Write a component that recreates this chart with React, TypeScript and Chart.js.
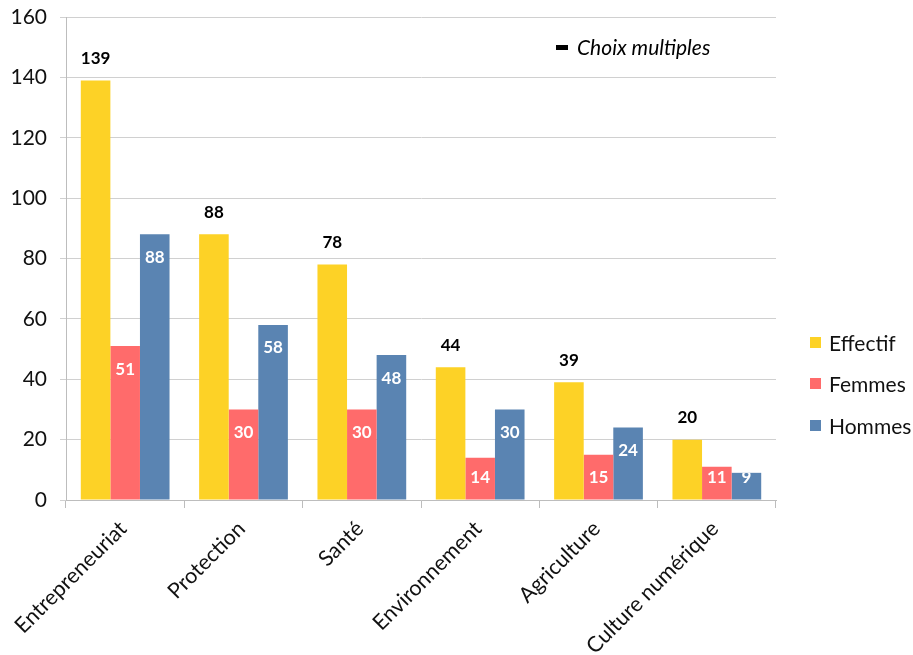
import React, { useEffect, useRef } from "react";
import { Chart, registerables } from "chart.js";

Chart.register(...registerables);

const categories = ["Entrepreneuriat", "Protection", "Santé", "Environnement", "Agriculture", "Culture numérique"];
const effectif = [139, 88, 78, 44, 39, 20];
const femmes = [51, 30, 30, 14, 15, 11];
const hommes = [88, 58, 48, 30, 24, 9];
const seriesNames = ["Effectif", "Femmes", "Hommes"];
const seriesColors = ["#FDD226", "#FF6B6B", "#5A84B2"];
const yTicks = [0, 20, 40, 60, 80, 100, 120, 140, 160];
const noteText = "Choix multiples";

const FONT = "Lato, 'Open Sans', sans-serif";

const labelPlugin = {
  id: "valueLabels",
  afterDatasetsDraw(chart: any) {
    const ctx = chart.ctx;
    ctx.save();
    ctx.font = `bold 17px ${FONT}`;
    ctx.textAlign = "center";
    ctx.textBaseline = "middle";
    chart.data.datasets.forEach((ds: any, di: number) => {
      const meta = chart.getDatasetMeta(di);
      meta.data.forEach((bar: any, i: number) => {
        const v = ds.data[i];
        if (di === 0) {
          ctx.fillStyle = "#000";
          ctx.fillText(String(v), bar.x, bar.y - 22);
        } else {
          ctx.save();
          ctx.beginPath();
          ctx.rect(bar.x - bar.width / 2, bar.y, bar.width, bar.base - bar.y);
          ctx.clip();
          ctx.fillStyle = "#fff";
          const y = Math.min(bar.y + 23, bar.base - 22);
          ctx.fillText(String(v), bar.x, y);
          ctx.restore();
        }
      });
    });
    // legend
    ctx.textAlign = "left";
    ctx.textBaseline = "middle";
    ctx.font = `21px ${FONT}`;
    const legY = [343, 384, 426];
    seriesNames.forEach((n, i) => {
      ctx.fillStyle = seriesColors[i];
      ctx.fillRect(810, legY[i] - 6, 11, 11);
      ctx.fillStyle = "#111";
      ctx.fillText(n, 829, legY[i] + 1);
    });
    // note
    ctx.fillStyle = "#000";
    ctx.fillRect(556, 45, 12, 5);
    ctx.font = `italic 21px ${FONT}`;
    ctx.fillText(noteText, 577, 48);
    ctx.restore();
  },
};

export default function App() {
  const ref = useRef<HTMLCanvasElement>(null);
  useEffect(() => {
    if (!ref.current) return;
    const chart = new Chart(ref.current, {
      type: "bar",
      data: {
        labels: categories,
        datasets: [effectif, femmes, hommes].map((d, i) => ({
          label: seriesNames[i],
          data: d,
          backgroundColor: seriesColors[i],
          borderWidth: 0,
          categoryPercentage: 0.75,
          barPercentage: 1,
        })),
      },
      options: {
        animation: false,
        responsive: false,
        maintainAspectRatio: false,
        layout: { padding: { top: 17, right: 137, left: 0, bottom: 0 } },
        plugins: {
          legend: { display: false },
          tooltip: { enabled: false },
        },
        scales: {
          x: {
            grid: {
              offset: true,
              drawOnChartArea: false,
              drawTicks: true,
              tickLength: 8,
              color: "#bdbdbd",
            },
            border: { color: "#bdbdbd", width: 1 },
            ticks: {
              minRotation: 45,
              maxRotation: 45,
              autoSkip: false,
              padding: 8,
              labelOffset: -2,
              color: "#111",
              font: { family: FONT, size: 21.5 },
            },
            afterFit(scale: any) {
              scale.height = 155;
              scale.paddingLeft = 0;
              scale.paddingRight = 0;
            },
          },
          y: {
            min: 0,
            max: 160,
            afterBuildTicks(scale: any) {
              scale.ticks = yTicks.map((v) => ({ value: v }));
            },
            grid: {
              color: "#d0d0d0",
              tickLength: 6,
              drawTicks: true,
            },
            border: { color: "#bdbdbd", width: 1 },
            ticks: {
              padding: 13,
              color: "#111",
              font: { family: FONT, size: 21 },
            },
            afterFit(scale: any) {
              scale.width = 66;
              scale.paddingTop = 0;
              scale.paddingBottom = 0;
            },
          },
        },
      },
      plugins: [labelPlugin],
    });
    return () => chart.destroy();
  }, []);
  return (
    <div style={{ position: "fixed", left: 0, top: 0, width: 913, height: 655 }}>
      <canvas ref={ref} width={913} height={655} style={{ width: 913, height: 655, display: "block" }} />
    </div>
  );
}
